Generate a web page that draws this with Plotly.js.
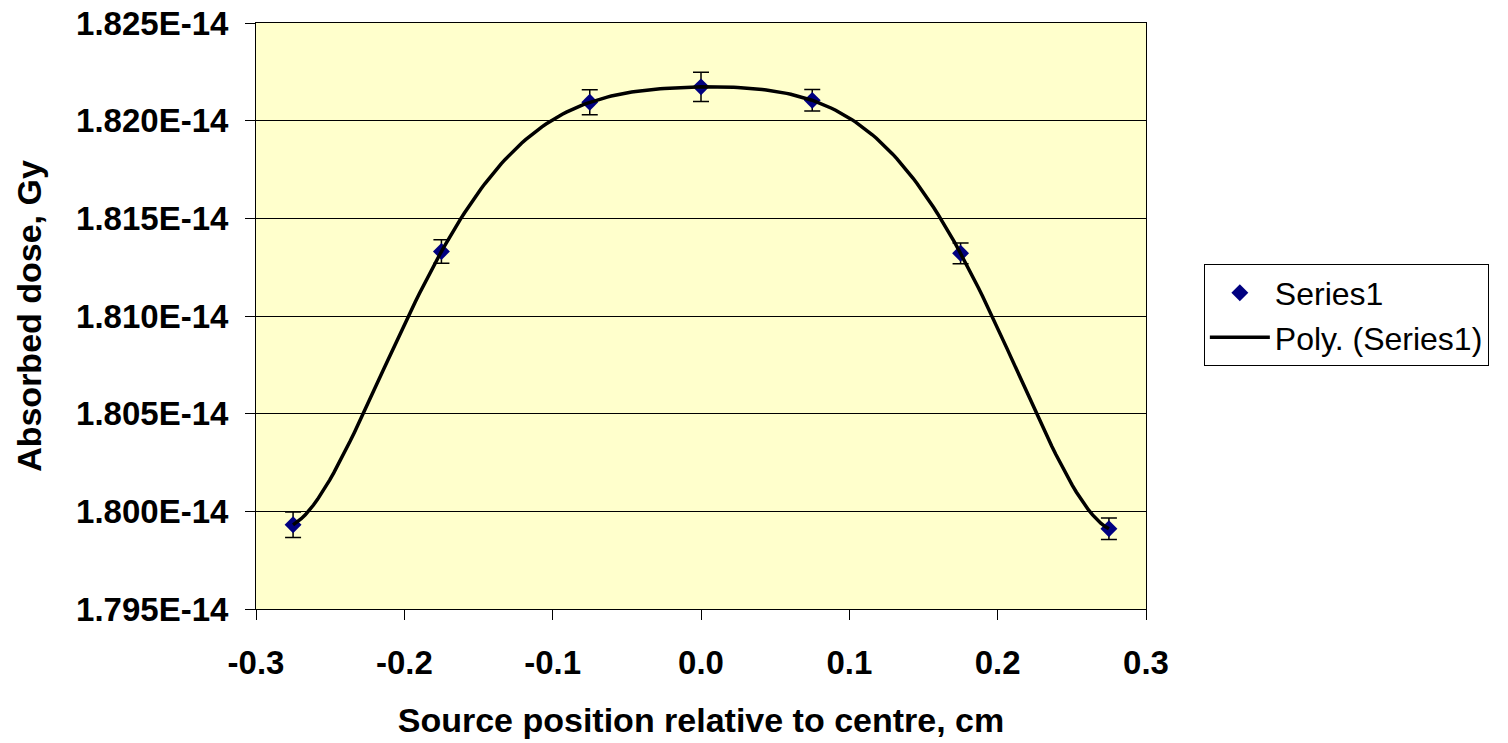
<!DOCTYPE html>
<html>
<head>
<meta charset="utf-8">
<script src="https://cdn.plot.ly/plotly-3.0.1.min.js"></script>
<style>
  html, body { margin: 0; padding: 0; background: #ffffff; overflow: hidden; }
  #chart { width: 1508px; height: 743px; }
</style>
</head>
<body>
<div id="chart"></div>
<script>
// Source positions (cm) and absorbed dose (Gy) with their uncertainties
const positions = [-0.275, -0.175, -0.075, 0.0, 0.075, 0.175, 0.275];
const doses = [1.79931e-14, 1.81330e-14, 1.82094e-14, 1.82173e-14, 1.82104e-14, 1.81321e-14, 1.79911e-14];
const doseErrors = [0.00065e-14, 0.00060e-14, 0.00064e-14, 0.00075e-14, 0.00055e-14, 0.00053e-14, 0.00055e-14];

const yTickValues = [1.795e-14, 1.800e-14, 1.805e-14, 1.810e-14, 1.815e-14, 1.820e-14, 1.825e-14];
const yTickLabels = ['1.795E-14', '1.800E-14', '1.805E-14', '1.810E-14', '1.815E-14', '1.820E-14', '1.825E-14'];
const xTickValues = [-0.3, -0.2, -0.1, 0.0, 0.1, 0.2, 0.3];
const xTickLabels = ['-0.3', '-0.2', '-0.1', '0.0', '0.1', '0.2', '0.3'];

const trendOrder = 6;

// Least-squares polynomial fit on scaled variables for numerical stability
function polyfit(xs, ys, order) {
  const n = order + 1;
  const A = [];
  for (let i = 0; i < n; i++) { A.push(new Array(n + 1).fill(0)); }
  for (let k = 0; k < xs.length; k++) {
    const p = [];
    for (let i = 0; i < n; i++) p.push(Math.pow(xs[k], i));
    for (let i = 0; i < n; i++) {
      for (let j = 0; j < n; j++) A[i][j] += p[i] * p[j];
      A[i][n] += p[i] * ys[k];
    }
  }
  for (let c = 0; c < n; c++) {
    let piv = c;
    for (let r = c + 1; r < n; r++) if (Math.abs(A[r][c]) > Math.abs(A[piv][c])) piv = r;
    [A[c], A[piv]] = [A[piv], A[c]];
    for (let r = 0; r < n; r++) {
      if (r === c) continue;
      const f = A[r][c] / A[c][c];
      for (let j = c; j <= n; j++) A[r][j] -= f * A[c][j];
    }
  }
  return A.map((row, i) => row[n] / row[i]);
}

const xScale = 0.3;
const yMid = 1.81e-14, yScale = 1e-16;
const coeffs = polyfit(positions.map(v => v / xScale), doses.map(v => (v - yMid) / yScale), trendOrder);

const xMin = Math.min(...positions), xMax = Math.max(...positions);
const trendX = [], trendY = [];
const steps = 200;
for (let i = 0; i <= steps; i++) {
  const x = xMin + (xMax - xMin) * i / steps;
  const u = x / xScale;
  let s = 0;
  for (let k = coeffs.length - 1; k >= 0; k--) s = s * u + coeffs[k];
  trendX.push(x);
  trendY.push(s * yScale + yMid);
}

const font = 'Liberation Sans, Arial, sans-serif';

const traces = [
  {
    x: positions,
    y: doses,
    name: 'Series1',
    type: 'scatter',
    mode: 'markers',
    marker: { symbol: 'diamond', size: 13, color: '#000080' },
    error_y: { type: 'data', array: doseErrors, visible: true, color: '#000000', thickness: 1.5, width: 8 }
  },
  {
    x: trendX,
    y: trendY,
    name: 'Poly. (Series1)',
    type: 'scatter',
    mode: 'lines',
    line: { color: '#000000', width: 3.5 }
  }
];

const layout = {
  width: 1508,
  height: 743,
  margin: { l: 256, r: 362, t: 23, b: 134, autoexpand: false },
  paper_bgcolor: '#ffffff',
  plot_bgcolor: '#FFFFCC',
  font: { family: font, color: '#000000' },
  showlegend: true,
  legend: {
    x: 1.065, y: 0.588, xanchor: 'left', yanchor: 'top',
    bgcolor: '#ffffff', bordercolor: '#000000', borderwidth: 1,
    font: { family: font, size: 32, color: '#000000' },
    tracegroupgap: 0,
    itemwidth: 60
  },
  xaxis: {
    range: [-0.3, 0.3],
    tickmode: 'array', tickvals: xTickValues, ticktext: xTickLabels,
    ticks: 'outside', ticklen: 10, tickcolor: '#000000', tickwidth: 1,
    showgrid: false, zeroline: false,
    showline: true, linecolor: '#000000', linewidth: 1, mirror: true,
    tickfont: { family: font, size: 33, color: '#000000', weight: 'bold' },
    ticklabelstandoff: 14,
    title: { text: 'Source position relative to centre, cm', font: { family: font, size: 34, color: '#000000', weight: 'bold' }, standoff: 28 }
  },
  yaxis: {
    range: [1.795e-14, 1.825e-14],
    tickmode: 'array', tickvals: yTickValues, ticktext: yTickLabels,
    ticks: 'outside', ticklen: 10, tickcolor: '#000000', tickwidth: 1,
    showgrid: true, gridcolor: '#000000', gridwidth: 1, zeroline: false,
    showline: true, linecolor: '#000000', linewidth: 1, mirror: true,
    tickfont: { family: font, size: 33, color: '#000000', weight: 'bold' },
    ticklabelstandoff: 10,
    title: { text: 'Absorbed dose, Gy', font: { family: font, size: 34, color: '#000000', weight: 'bold' }, standoff: 24 }
  }
};

Plotly.newPlot('chart', traces, layout, { staticPlot: true, displayModeBar: false });
</script>
</body>
</html>
